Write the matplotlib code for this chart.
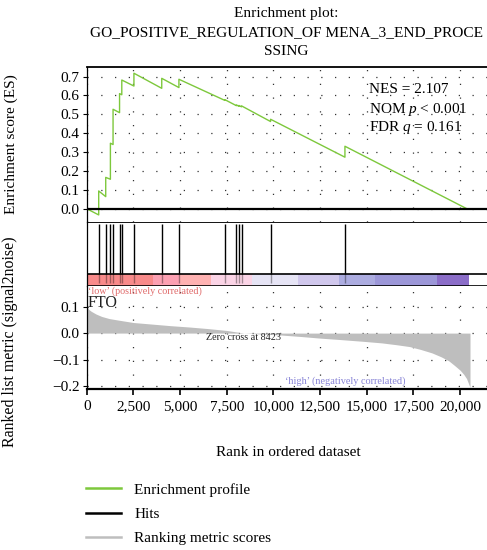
import matplotlib
matplotlib.use("Agg")
import matplotlib.pyplot as plt
from matplotlib.lines import Line2D
from matplotlib import transforms

plt.rcParams['font.family'] = ['Liberation Serif', 'DejaVu Serif']
plt.rcParams['mathtext.fontset'] = 'custom'
plt.rcParams['mathtext.rm'] = 'Liberation Serif'
plt.rcParams['mathtext.it'] = 'Liberation Serif:italic'

# ---------------- data ----------------
title_lines = ["Enrichment plot:", "GO_POSITIVE_REGULATION_OF MENA_3_END_PROCE", "SSING"]

# running enrichment score vertices (rank, ES)
es_rank = [0, 643, 643, 1019, 1019, 1270, 1270, 1412, 1412, 1760, 1760, 1880, 1880,
           2530, 2530, 4020, 4020, 4940, 4940, 7400, 7400, 8020, 8020, 8150, 8150,
           8293, 8293, 9850, 9850, 13834, 13834, 20360]
es_value = [0.0, -0.033, 0.094, 0.064, 0.166, 0.156, 0.347, 0.340, 0.527, 0.509, 0.610,
            0.604, 0.682, 0.650, 0.718, 0.638, 0.691, 0.642, 0.686, 0.574, 0.578,
            0.546, 0.550, 0.543, 0.547, 0.540, 0.545, 0.462, 0.474, 0.273, 0.331, 0.0]

# positions of gene-set members in the ranked list
hits = [643, 1019, 1270, 1412, 1760, 1880, 2530, 4020, 4940, 7400, 8020, 8150, 8293,
        9850, 13834]

# ranked list metric (signal2noise)
metric_rank = [0, 100, 250, 500, 800, 1200, 1700, 2500, 3500, 4500, 5500, 6500, 7500,
               8423, 9500, 10350, 11500, 12500, 13500, 14800, 15800, 16600, 17300,
               17900, 18500, 19000, 19400, 19700, 20000, 20200, 20350, 20450, 20534]
metric_value = [0.100, 0.090, 0.082, 0.072, 0.063, 0.055, 0.049, 0.040, 0.034, 0.028,
                0.023, 0.017, 0.010, 0.0, -0.004, -0.007, -0.013, -0.019, -0.024,
                -0.031, -0.037, -0.044, -0.051, -0.062, -0.075, -0.090, -0.105,
                -0.122, -0.140, -0.156, -0.172, -0.190, -0.205]

# colour bar segments (rank edges and colours)
cbar_edges = [0, 3570, 5000, 6640, 8870, 11300, 13530, 15440, 18750, 20480]
cbar_colors = ['#F88A8A', '#FCA0B2', '#FFB2B2', '#FBD4E6', '#E6E4F5', '#D0C7EC',
               '#ACACE0', '#9C97D8', '#8B6DC8']

x_ticks = [0, 2500, 5000, 7500, 10000, 12500, 15000, 17500, 20000]
x_tick_labels = ['0', '2,500', '5,000', '7,500', '10,000', '12,500', '15,000',
                 '17,500', '20,000']
es_ticks = [0.0, 0.1, 0.2, 0.3, 0.4, 0.5, 0.6, 0.7]
es_tick_labels = ['0.0', '0.1', '0.2', '0.3', '0.4', '0.5', '0.6', '0.7']
m_ticks = [0.1, 0.0, -0.1, -0.2]
m_tick_labels = ['0.1', '0.0', '\u22120.1', '\u22120.2']

stats = ["NES = 2.107", "NOM $p$ < 0.001", "FDR $q$ = 0.161"]
zero_cross = 8423
top_gene = "FTO"
legend_labels = ["Enrichment profile", "Hits", "Ranking metric scores"]

# ---------------- layout helpers ----------------
W_PX, H_PX = 487, 550
def fx(x):
    return x / W_PX
def fy(y):
    return 1 - y / H_PX

fig = plt.figure(figsize=(4.87, 5.5), dpi=100)
XMAX = 21600
L = fx(86.7)
W = 403.2 / W_PX

GREEN = '#7DC83C'
GRID_KW = dict(color='#333333', linestyle=(0, (1, 10)), linewidth=0.9)
FS = 11

# ---------------- ES panel ----------------
ax_es = fig.add_axes([L, fy(222), W, (222 - 67) / H_PX])
ax_es.plot(es_rank, es_value, color=GREEN, lw=1.0)
ax_es.axhline(0, color='black', lw=1.6, zorder=3)
ax_es.set_xlim(0, XMAX)
ax_es.set_ylim(-0.0705, 0.751)
ax_es.set_xticks(x_ticks)
ax_es.set_yticks(es_ticks)
ax_es.set_yticklabels(es_tick_labels, fontsize=FS)
ax_es.tick_params(axis='x', length=0, labelbottom=False)
ax_es.tick_params(axis='y', length=3, width=0.8, pad=2)
ax_es.grid(True, **GRID_KW)
ax_es.set_axisbelow(True)
for s in ['right', 'bottom']:
    ax_es.spines[s].set_visible(False)
ax_es.spines['top'].set_linewidth(1.3)
ax_es.spines['left'].set_linewidth(0.9)
ax_es.set_ylabel("Enrichment score (ES)", fontsize=FS)
ax_es.yaxis.set_label_coords((18 - 86.7) / 403.2, 0.5)

for i, t in enumerate(stats):
    ax_es.text(fx(369), fy([90, 109, 128][i]), t, transform=fig.transFigure,
               fontsize=FS, va='center', ha='left')

# ---------------- hits panel ----------------
ax_hit = fig.add_axes([L, fy(286), W, 64 / H_PX])
ax_hit.set_xlim(0, XMAX)
ax_hit.set_ylim(0, 1)
cb_top = 12 / 64
for i, c in enumerate(cbar_colors):
    ax_hit.axvspan(cbar_edges[i], cbar_edges[i + 1], ymin=0, ymax=cb_top, color=c, lw=0)
ax_hit.vlines(hits, cb_top, 62 / 64, color='black', lw=1.0)
ax_hit.vlines(hits, 0.05, cb_top, color='black', lw=1.0, alpha=0.35)
ax_hit.axhline(cb_top, color='black', lw=1.2)
ax_hit.axhline(0, color='black', lw=1.2)
ax_hit.axhline(1, color='black', lw=1.3)
ax_hit.set_xticks([])
ax_hit.set_yticks([])
for s in ['right', 'bottom', 'top']:
    ax_hit.spines[s].set_visible(False)
ax_hit.spines['left'].set_linewidth(0.9)

# ---------------- metric panel ----------------
ax_m = fig.add_axes([L, fy(389), W, 103 / H_PX])
ax_m.fill_between(metric_rank, metric_value, 0, color='#BEBEBE', lw=0)
ax_m.set_xlim(0, XMAX)
ax_m.set_ylim(-0.2113, 0.178)
ax_m.set_xticks(x_ticks)
ax_m.set_xticklabels(x_tick_labels, fontsize=FS)
ax_m.set_yticks(m_ticks)
ax_m.set_yticklabels(m_tick_labels, fontsize=FS)
ax_m.tick_params(axis='both', length=3, width=0.8, pad=2)
ax_m.tick_params(axis='x', length=4, width=1.2, pad=4)
ax_m.grid(True, **GRID_KW)
ax_m.set_axisbelow(True)
for s in ['right', 'top']:
    ax_m.spines[s].set_visible(False)
ax_m.spines['bottom'].set_linewidth(1.6)
ax_m.spines['left'].set_linewidth(0.9)

ax_m.text(fx(88), fy(291), "\u2018low\u2019 (positively correlated)", transform=fig.transFigure,
          fontsize=7.3, color='#E06A6A', va='center', ha='left')
ax_m.text(fx(88), fy(303), top_gene, transform=fig.transFigure,
          fontsize=11.5, color='#222222', va='center', ha='left')
ax_m.text(zero_cross, fy(338), "Zero cross at %d" % zero_cross,
          transform=transforms.blended_transform_factory(ax_m.transData, fig.transFigure),
          fontsize=7.3, color='#222222', va='center', ha='center')
ax_m.text(fx(345), fy(381), "\u2018high\u2019 (negatively correlated)", transform=fig.transFigure,
          fontsize=7.4, color='#8884D6', va='center', ha='center')

ax_m.set_ylabel("Ranked list metric (signal2noise)", fontsize=11.4)
ax_m.yaxis.set_label_coords((18 - 86.7) / 403.2, (389 - 342) / 103)

fig.text(fx(288), fy(452), "Rank in ordered dataset", fontsize=FS, ha='center', va='center')

# ---------------- title ----------------
for i, t in enumerate(title_lines):
    fig.text(fx(286.5), fy([14, 33, 52][i]), t, fontsize=11.1, ha='center', va='center')

# ---------------- legend ----------------
handles = [Line2D([], [], color=GREEN, lw=1.8),
           Line2D([], [], color='black', lw=1.8),
           Line2D([], [], color='#BEBEBE', lw=1.8)]
fig.legend(handles, legend_labels, loc='upper left', bbox_to_anchor=(fx(83), fy(480)),
           frameon=False, fontsize=FS, handlelength=2.3, handletextpad=0.85,
           labelspacing=0.68, borderpad=0.2, borderaxespad=0)

fig.savefig("out.png", dpi=100)
